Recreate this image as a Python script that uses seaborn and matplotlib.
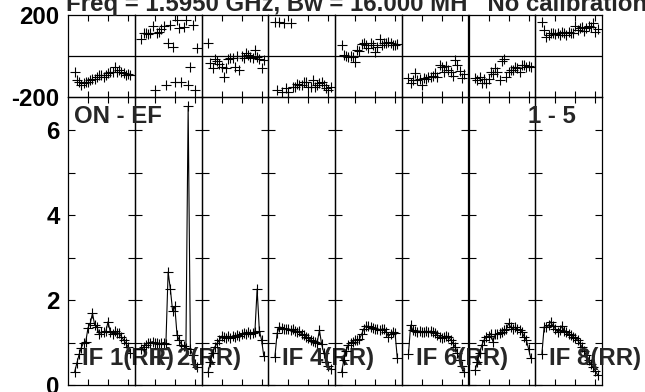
import numpy as np
import seaborn as sns
import matplotlib
matplotlib.use("Agg")
import matplotlib.pyplot as plt

# channel numbers shown in every IF panel
channels = list(range(3, 29))

# amplitude per channel (lower panels)
amp_if1 = [0.31, 0.52, 0.72, 0.88, 1.0, 1.02, 1.35, 1.45, 1.69, 1.41, 1.37, 1.2, 1.25,
           1.24, 1.26, 1.49, 1.25, 1.2, 1.26, 1.22, 1.22, 1.14, 1.06, 0.98, 0.9, 0.75]
amp_if2 = [0.85, 0.9, 0.95, 1.0, 1.0, 1.02, 0.98, 1.0, 0.96, 0.98, 1.0, 0.97, 2.66,
           2.26, 1.75, 1.85, 1.18, 1.05, 0.95, 0.92, 0.88, 6.56, 0.85, 0.7, 0.5, 0.42]
amp_if3 = [0.31, 0.55, 0.75, 0.9, 0.98, 1.05, 1.15, 1.12, 1.1, 1.15, 1.1, 1.15, 1.12,
           1.18, 1.15, 1.2, 1.22, 1.2, 1.25, 1.2, 1.22, 1.25, 2.26, 1.28, 1.06, 0.68]
amp_if4 = [0.67, 1.22, 1.37, 1.35, 1.33, 1.31, 1.33, 1.3, 1.31, 1.28, 1.25, 1.27, 1.2,
           1.17, 1.14, 1.1, 1.06, 1.04, 1.02, 1.0, 1.29, 0.96, 0.75, 0.55, 0.45, 0.38]
amp_if5 = [0.31, 0.6, 0.8, 0.95, 1.0, 1.02, 1.06, 1.05, 1.08, 1.2, 1.33, 1.39, 1.38,
           1.36, 1.35, 1.33, 1.31, 1.3, 1.31, 1.32, 1.25, 1.14, 1.2, 1.25, 1.22, 0.63]
amp_if6 = [0.72, 1.41, 1.29, 1.27, 1.24, 1.27, 1.25, 1.25, 1.27, 1.25, 1.27, 1.25, 1.22,
           1.18, 1.14, 1.1, 1.14, 1.15, 1.14, 1.06, 0.98, 0.9, 0.75, 0.6, 0.45, 0.31]
amp_if7 = [0.35, 0.55, 0.75, 0.94, 1.06, 1.14, 1.15, 1.21, 1.02, 1.19, 1.21, 1.22, 1.25,
           1.29, 1.31, 1.45, 1.36, 1.33, 1.36, 1.31, 1.29, 1.25, 1.14, 1.06, 0.85, 0.63]
amp_if8 = [0.74, 1.37, 1.36, 1.41, 1.49, 1.38, 1.33, 1.25, 1.29, 1.39, 1.28, 1.24, 1.2,
           1.18, 1.14, 1.1, 1.06, 0.98, 0.9, 0.8, 0.7, 0.6, 0.5, 0.42, 0.33, 0.24]

# phase per channel in degrees (upper panels)
phase_if1 = [-76, -117, -125, -141, -133, -125, -125, -117, -114, -110, -104, -93, -93,
             -100, -93, -85, -76, -80, -52, -76, -68, -76, -85, -93, -88, -93]
phase_if2 = [81, 114, 110, 106, 110, 146, -166, 114, 118, 130, 146, -141, 62,
             151, 45, -125, 178, 135, -125, 140, 176, -140, -52, 151, -166, 37]
phase_if3 = [62, -36, -57, -16, -24, -40, -52, -101, -60, -16, -12, -9, -52,
             -1, -68, 1, -9, 13, 5, -5, -12, 29, -5, -16, -60, -20]
phase_if4 = [167, -166, 165, -174, 163, -158, -174, 163, -150, -153, -137, -141, -141,
             -125, -125, -153, -153, -117, -153, -141, -130, -125, -141, -158, -166, -150]
phase_if5 = [54, 5, 0, -3, 0, -6, -28, 29, 26, 59, 62, 54, 37,
             62, 54, 21, 46, 81, 54, 62, 62, 70, 62, 54, 54, 60]
phase_if6 = [-109, -133, -117, -81, -117, -114, -141, -109, -114, -104, -101, -96, -81,
             -101, -44, -52, -76, -47, -68, -76, -96, -20, -44, -71, -109, -90]
phase_if7 = [-109, -117, -101, -133, -114, -133, -114, -76, -88, -60, -76, -117, -24,
             -16, -101, -76, -68, -68, -52, -60, -76, -44, -44, -52, -48, -52]
phase_if8 = [167, 127, 94, 102, 111, 111, 107, 114, 102, 119, 111, 102, 119,
             111, 111, 146, 127, 135, 140, 124, 135, 146, 140, 159, 119, 130]

amps = [amp_if1, amp_if2, amp_if3, amp_if4, amp_if5, amp_if6, amp_if7, amp_if8]
phases = [phase_if1, phase_if2, phase_if3, phase_if4, phase_if5, phase_if6, phase_if7, phase_if8]

# IF labels that are visible on the plot
if_labels = {0: 'IF 1(RR)', 1: 'IF 2(RR)', 3: 'IF 4(RR)', 5: 'IF 6(RR)', 7: 'IF 8(RR)'}

title = 'Freq = 1.5950 GHz, Bw = 16.000 MH   No calibration'

sns.set_theme(style='white')
plt.rcParams['font.family'] = ['Liberation Sans', 'DejaVu Sans']
plt.rcParams['font.weight'] = 'bold'

W, H = 645, 392
fig = plt.figure(figsize=(W / 100, H / 100), dpi=100)

# ---------- panel geometry (pixels) ----------
x0, pw = 68, 66.75
y_top, y_mid, y_bot = 15, 97, 385
FS = 17.3

for i in range(8):
    left = (x0 + i * pw) / W
    ax_ph = fig.add_axes([left, 1 - y_mid / H, pw / W, (y_mid - y_top) / H])
    ax_am = fig.add_axes([left, 1 - y_bot / H, pw / W, (y_bot - y_mid) / H])

    # phase: points only
    sns.scatterplot(x=channels, y=phases[i], marker='+', s=45, color='black',
                    linewidth=0.8, ax=ax_ph, legend=False)
    ax_ph.axhline(0, color='black', lw=0.9)
    ax_ph.set_ylim(-200, 200)
    ax_ph.set_yticks([-200, 200])
    ax_ph.set_yticklabels(['-200', '200'])

    # amplitude: points joined by a line
    sns.lineplot(x=channels, y=amps[i], color='black', lw=0.8, marker='+',
                 markersize=7, markeredgewidth=0.8, markeredgecolor='black', ax=ax_am)
    ax_am.set_ylim(0, 6.78)
    ax_am.set_yticks(range(7))
    ax_am.set_yticklabels(['0', '', '2', '', '4', '', '6'])

    for ax in (ax_ph, ax_am):
        ax.set_xlim(0, 30)
        ax.set_xticks([9, 18, 27])
        ax.set_xlabel('')
        ax.set_ylabel('')
        ax.tick_params(axis='x', direction='in', top=True, bottom=True, length=4,
                       width=0.8, labelbottom=False, colors='black')
        ax.tick_params(axis='y', direction='in', left=True, right=True, length=5,
                       width=0.8, labelleft=(i == 0), pad=6, labelsize=FS,
                       colors='black')
        for sp in ax.spines.values():
            sp.set_color('black')
            sp.set_linewidth(0.9)
        ax.set_facecolor('none')
    ax_ph.tick_params(axis='y', length=0)

    if i in if_labels:
        ax_am.text(14 / pw, 20 / (y_bot - y_mid), if_labels[i], transform=ax_am.transAxes,
                   fontsize=FS, fontweight='bold', ha='left', va='baseline',
                   clip_on=False, zorder=5)

fig.text(74 / W, 1 - 123 / H, 'ON - EF', fontsize=FS, fontweight='bold',
         ha='left', va='baseline')
fig.text(528 / W, 1 - 123 / H, '1 - 5', fontsize=FS, fontweight='bold',
         ha='left', va='baseline')
fig.text(66 / W, 1 - 11 / H, title, fontsize=FS, fontweight='bold',
         ha='left', va='baseline')

plt.savefig('out.png', dpi=100)
